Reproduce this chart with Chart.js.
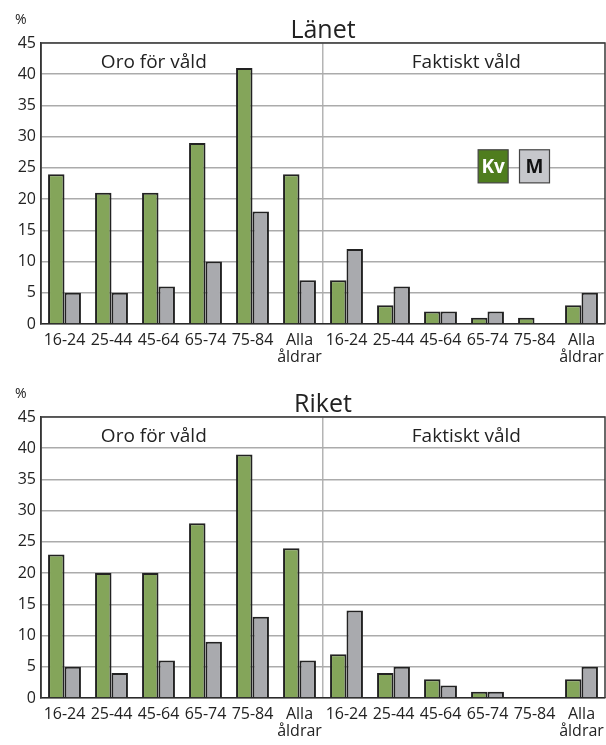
<!DOCTYPE html>
<html>
<head>
<meta charset="utf-8">
<script src="https://cdn.jsdelivr.net/npm/chart.js@4"></script>
<style>
  body { margin: 0; background: #fff; width: 606px; height: 745px; position: relative; overflow: hidden; }
  canvas { position: absolute; left: 0; }
  #lanChart { top: 0; }
  #riketChart { top: 374px; }
</style>
</head>
<body>
<canvas id="lanChart" width="606" height="372"></canvas>
<canvas id="riketChart" width="606" height="372"></canvas>
<script>
// --- DATA ---
const ageLabels = ['16-24', '25-44', '45-64', '65-74', '75-84', ['Alla', 'åldrar'],
                   '16-24', '25-44', '45-64', '65-74', '75-84', ['Alla', 'åldrar']];
const lanKv = [24, 21, 21, 29, 41, 24, 7, 3, 2, 1, 1, 3];
const lanM = [5, 5, 6, 10, 18, 7, 12, 6, 2, 2, 0, 5];
const riketKv = [23, 20, 20, 28, 39, 24, 7, 4, 3, 1, 0, 3];
const riketM = [5, 4, 6, 9, 13, 6, 14, 5, 2, 1, 0, 5];
const sectionLabels = ['Oro för våld', 'Faktiskt våld'];
const seriesNames = ['Kv', 'M'];

const FONT = '"Open Sans", "DejaVu Sans", sans-serif';
const TEXT = '#222';

// draws frame, title, % unit, section labels and legend boxes
const decorPlugin = {
    id: 'decor',
    beforeDraw(chart) {
        const c = chart.ctx;
        c.save();
        c.fillStyle = '#fff';
        c.fillRect(0, 0, chart.width, chart.height);
        c.restore();
    },
    afterDraw(chart, args, opts) {
        const c = chart.ctx, a = chart.chartArea;
        const xs = chart.scales.x, ys = chart.scales.y;
        c.save();
        // frame
        c.strokeStyle = '#3a3a3a';
        c.lineWidth = 1.5;
        c.beginPath();
        c.moveTo(a.left, a.bottom);
        c.lineTo(a.left, a.top);
        c.lineTo(a.right, a.top);
        c.lineTo(a.right, a.bottom);
        c.stroke();
        // title
        c.fillStyle = TEXT;
        c.textAlign = 'center';
        c.textBaseline = 'alphabetic';
        c.font = '25px ' + FONT;
        c.fillText(opts.title, (a.left + a.right) / 2, a.top - 5);
        c.font = '14px ' + FONT;
        c.textAlign = 'left';
        c.fillText('%', 15, a.top - 19);
        // section labels
        c.font = '19px ' + FONT;
        c.textAlign = 'center';
        c.fillText(sectionLabels[0], xs.getPixelForValue(1.9), ys.getPixelForValue(41.0));
        c.fillText(sectionLabels[1], xs.getPixelForValue(8.55), ys.getPixelForValue(41.0));
        // legend boxes
        if (opts.legend) {
            const ty = ys.getPixelForValue(27.9), by = ys.getPixelForValue(22.6);
            const boxes = [
                { name: seriesNames[0], x: xs.getPixelForValue(9.12), fill: '#4f7d1e', color: '#fff' },
                { name: seriesNames[1], x: xs.getPixelForValue(10.0), fill: '#c6c7cb', color: '#111' }
            ];
            boxes.forEach(b => {
                c.fillStyle = b.fill;
                c.fillRect(b.x - 15, ty, 30, by - ty);
                c.strokeStyle = '#444';
                c.lineWidth = 1.2;
                c.strokeRect(b.x - 15, ty, 30, by - ty);
                c.fillStyle = b.color;
                c.font = 'bold 19px ' + FONT;
                c.textBaseline = 'middle';
                c.fillText(b.name, b.x, (ty + by) / 2 + 1);
            });
        }
        c.restore();
    }
};

function makeChart(id, title, kv, m, showLegend) {
    const ctx = document.getElementById(id).getContext('2d');
    return new Chart(ctx, {
        type: 'bar',
        data: {
            labels: ageLabels,
            datasets: [{
                label: seriesNames[0],
                data: kv,
                backgroundColor: '#84a55a',
                borderColor: '#222',
                borderWidth: 2,
                categoryPercentage: 0.7,
                barPercentage: 1.0
            }, {
                label: seriesNames[1],
                data: m,
                backgroundColor: '#a9aaae',
                borderColor: '#222',
                borderWidth: 2,
                categoryPercentage: 0.7,
                barPercentage: 1.0
            }]
        },
        options: {
            responsive: false,
            animation: false,
            layout: { padding: { top: 43, right: 1, left: 0, bottom: 0 } },
            scales: {
                x: {
                    grid: {
                        offset: true,
                        drawTicks: false,
                        lineWidth: 1.5,
                        color: c => (c.index === 6 ? '#b4b4b4' : 'rgba(0,0,0,0)')
                    },
                    border: { color: '#2a2a2a', width: 1.5 },
                    ticks: {
                        color: TEXT,
                        font: { family: FONT, size: 16, lineHeight: 1.05 },
                        padding: 8,
                        maxRotation: 0,
                        autoSkip: false
                    },
                    afterFit: s => { s.height = 48; s.paddingLeft = 0; s.paddingRight = 0; }
                },
                y: {
                    min: 0,
                    max: 45,
                    grid: { color: '#ababab', lineWidth: 1.5, drawTicks: false },
                    border: { color: '#2a2a2a', width: 1.5 },
                    ticks: {
                        stepSize: 5,
                        color: TEXT,
                        font: { family: FONT, size: 16 },
                        padding: 5
                    },
                    afterFit: s => { s.width = 41; s.paddingTop = 0; s.paddingBottom = 0; }
                }
            },
            plugins: {
                legend: { display: false },
                tooltip: { enabled: false },
                decor: { title: title, legend: showLegend }
            }
        },
        plugins: [decorPlugin]
    });
}

makeChart('lanChart', 'Länet', lanKv, lanM, true);
makeChart('riketChart', 'Riket', riketKv, riketM, false);
</script>
</body>
</html>
